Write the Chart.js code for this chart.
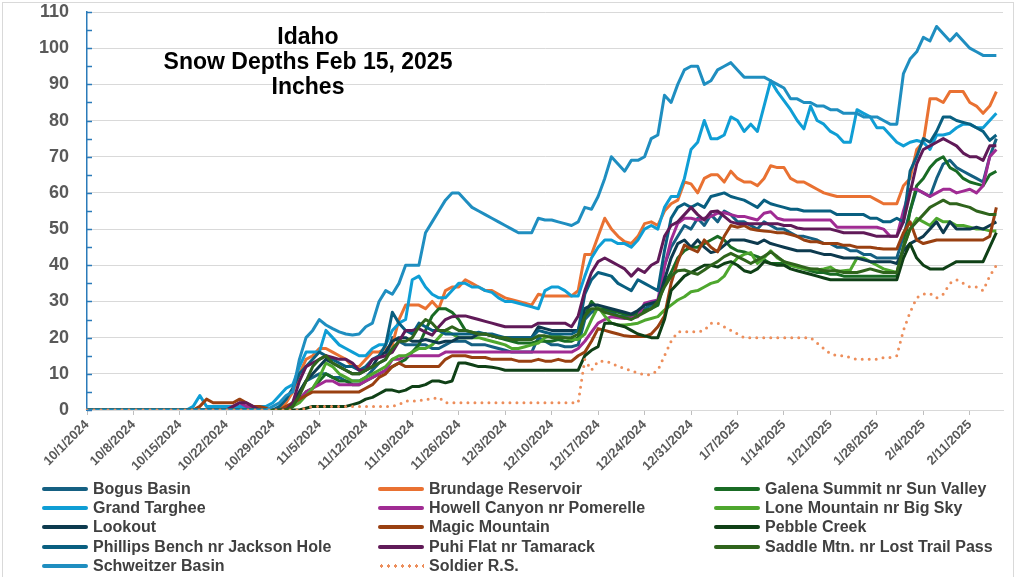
<!DOCTYPE html>
<html>
<head>
<meta charset="utf-8">
<script src="https://cdn.jsdelivr.net/npm/chart.js@4.4.1/dist/chart.umd.min.js"></script>
<style>
html,body{margin:0;padding:0;background:#fff;}
#wrap{position:relative;width:1022px;height:577px;overflow:hidden;background:#fff;}
#frame{position:absolute;left:2px;top:2px;width:1012px;height:600px;border:1px solid #d9d9d9;box-sizing:border-box;}
#c{position:absolute;left:0;top:0;}
#title{position:absolute;left:108px;top:24px;width:400px;text-align:center;font:bold 23px/25px "Liberation Sans",Arial,sans-serif;color:#000;}
#legend{position:absolute;left:0;top:0;width:1022px;height:577px;pointer-events:none;}
.item{position:absolute;height:20px;display:flex;align-items:center;font:bold 16px "Liberation Sans",Arial,sans-serif;color:#404040;white-space:nowrap;}
.sw{width:46px;height:4px;margin-right:5px;border-radius:2px;}
.dots{width:46px;height:4px;margin-right:5px;background-image:radial-gradient(circle,#ED8E5B 1.6px,transparent 1.8px);background-size:7px 4px;background-repeat:repeat-x;}
</style>
</head>
<body>
<div id="wrap">
  <div id="frame"></div>
  <canvas id="c" width="1022" height="577"></canvas>
  <div id="title">Idaho<br>Snow Depths Feb 15, 2025<br>Inches</div>
  <div id="legend"></div>
</div>
<script>
// ---- categories (daily, 10/1/2024 .. 2/16/2025) ----
const dates = [];
for (let i = 0; i < 139; i++) {
  const d = new Date(2024, 9, 1 + i);
  dates.push((d.getMonth() + 1) + '/' + d.getDate() + '/' + d.getFullYear());
}
const tickEvery = 7;
const yTicks = [0,10,20,30,40,50,60,70,80,90,100,110];

// ---- series (inches, one value per day 10/1/2024 .. 2/15/2025) ----
const bogusBasin = [
 0,0,0,0,0,0,0,0,0,0, 0,0,0,0,0,0,0,0,0,0, 0,0,0,0,0,0,0,0,0,0, 0,
 2,5,8,9,10,10,9,9,8,
 8,8,9,11,13,14,20,19,18,18,
 18,18,17,17,18,19,19,19,18,18,
 18,17.5,17,16.5,16,16,16,16,20,19,
 18,18,17.5,17.5,18,25,27,28,27.5,27,
 26,26,25.5,27,28,29,29,40,45,48,
 51,50,53,51,54,52,55,54,52,52,
 51,50,52,51,50,50,49,48,48,47.5,
 47,46,46,45,45,44,44,43,43,42,
 42,42,42,48,55,61,60,59,64,68,
 69,67,66,65,64,63,70,75];
const brundageReservoir = [
 0,0,0,0,0,0,0,0,0,0, 0,0,0,0,0,0,0,0,0,0, 0,0,0,0,0,0,0,0,0,0,
 2,5,10,14,15,17,17,16,15,14,
 12,12,14,16,16,17,18,25,29,29,
 29,28,30,28,33,34,34,36,35,34,
 33,33,32,31,30.5,30,29.5,29,32,31.5,
 31.5,31.5,31.5,31.5,33,43,43,48,53,50,
 48,46.5,46,48,51.5,52,51,55,57,58,
 63,62.5,60,64,65,65,63,66,64,63,
 63,62,64,67.5,67,67,64,63,63,62,
 61,60,59.5,59,59,59,59,59,59,58,
 57,57,57,62,64,72,74,86,86,85,
 88,88,88,85,84,82,84,88];
const galenaSummit = [
 0,0,0,0,0,0,0,0,0,0, 0,0,0,0,0,0,0,0,0,0, 0,0,0,0,0,0,0,0,0,0, 0,
 1,3,5,6,8,10,9,8,8,
 7,7,8,9,10,11,12,13,14,16,
 18,22,26,28,28,27,25,22,21.5,21,
 21,20.5,20,19.5,19,18.5,18.5,18.5,19,19,
 19,19.5,19,19,20,26,30,28,28,27.5,
 27,26.5,26,27,27.5,28,29,35,38,42,
 44,45,45,46,47,48,47,45,44,43.7,
 43,42.4,41.5,40.5,40.5,40.5,40,39.6,39,38.5,
 38,38,37.5,37.5,37,37,37,37,37,37,
 37,37,37,45,55,62,64,67,69,70,
 67,66,64,63,62.5,62,65,66];
const grandTarghee = [
 0,0,0,0,0,0,0,0,0,0,
 0,0,0,0,0,0,1,4,1,1,
 1,1,1,1,1,1,1,1,2,4,
 6,7,12,16,16,16,22,20,18,17,
 16,15,15,17,18,18,22,24,25,36,
 37,34,32,31,31,33,35,35,34,34,
 33,32.5,31,30,30,29.5,29,28.5,28,33,
 34,34,33,31.5,31.5,37,42,45,47,47,
 46,46,45,47,50,51,50,56,59,59,
 64,72,74,80,75,75,76,81,80,77,
 79,77,84,91,88,85.5,83,80,77.7,84,
 80,79,77,76,74,74,83,82,81,78,
 78,76,74,73,74,74.5,74,72,76,76,
 76.5,78,79,79,78,78,80,82];
const howellCanyon = [
 0,0,0,0,0,0,0,0,0,0, 0,0,0,0,0,0,0,0,0,0, 0,0,
 1,2,1,1,0,0,0,0,0,
 1,3,5,6,7,8,8,7,7,
 7,7,8,9,10,11,14,14,15,15,
 15,15,15,15,16,16,16,16,16,16,
 16,16,16,16,16,16,16,16,16,16,
 16,16,16,16,17,19,21.5,24,25,25.8,
 25.5,25.3,25.5,25.8,29.5,30,30.4,39.6,47,51.6,
 53,53,52.5,53,53.5,54.4,54.5,54,53.5,53.5,
 53,52.5,54.4,54.8,53,52.5,52.5,52.5,52.5,52.5,
 52.5,52.5,52.5,50.5,50.5,50.5,50.5,50.5,50.5,50.5,
 50,48,48,55,61,61,60,59,60,61,
 61,60,60.5,61,60,62,70,72];
const loneMountain = [
 0,0,0,0,0,0,0,0,0,0, 0,0,0,0,0,0,0,0,0,0, 0,0,0,0,0,0,0,0,0,0, 0,
 1,2,4,6,9,13,12,10,9,
 8,8,9,10,11,12,14,15,15,16,
 17,17,18,20,22,21,20,20,20,20,
 19.5,19,18.5,18,17,17,17.5,18,18.5,20,
 20.5,20.5,20,19.5,19.5,21,25,28.5,26,24,
 23.5,23.5,23.7,24,24.8,25.3,25.8,27.6,29,30.4,
 31.3,32.7,33,34,35,35.5,37,40,42,43,
 43.5,40.5,42,44,42,41,40,39.5,39,39,
 38.7,39,39.5,38.3,38.5,38.7,42,42,41,40,
 39,38.5,38,45,50,53,52,51,53,52,
 52,51,51,50.5,50,50,49.5,49.5];
const lookout = [
 0,0,0,0,0,0,0,0,0,0, 0,0,0,0,0,0,0,0,0,0, 0,0,0,0,0,0,0,0,0,0, 0,
 2,5,8,10,12,14,13,12,11,
 10,10,11,12,15,16,19,20,20,19,
 19,19.5,19,18.5,19,19,20,20,20,21,
 21,20.5,20,20,20,20,20,20,23,22.5,
 22,22,22,22,22,28,29,29,28.5,28,
 27.5,27,26.5,27.5,29,29.5,30,36,42,46,
 47,45,47,45,43.5,44,45.5,47,47,47,
 46.5,46,47,46,45.5,45,44.5,44,44,44,
 43.5,43,43,42.5,42,42,42,41.5,41,41,
 41,41,40.5,44,46,47,48,50,52,49,
 52,50,50,50,50.5,50,51,52];
const magicMountain = [
 0,0,0,0,0,0,0,0,0,0, 0,0,0,0,0,0,0,
 1,3,2,
 2,2,2,3,2,1,1,0.5,0,0,
 1,2,3,4,5,5,5,5,5,5,
 5,5,6,7,9,10,12,13,12,12,
 12,12,12,12,14,15,15,15,14.5,14.5,
 14.5,14,14,14,14,13.5,13.5,13.5,14,13.5,
 13.5,14,13.5,13.5,15,16,19,22.5,22,21.5,
 21,20.5,20.3,20.3,20.3,21,23,26,35,41,
 45.6,44.5,43.7,47,45,43.7,48,51,50.5,51,
 50,49.7,49.5,49.3,49,49,48.5,48,47,46.5,
 46.5,46,46,46,45.5,45.5,45,45,45,44.7,
 44.5,44.5,44.5,49,52,47,46,46.5,47,47,
 47,47,47,47,47,47,48,56];
const pebbleCreek = [
 0,0,0,0,0,0,0,0,0,0, 0,0,0,0,0,0,0,0,0,0, 0,0,0,0,0,0,0,0,0,0, 0,0,0,
 0.5,1,1,1,1,1,1,
 1.5,2,3,3.5,4.5,5.5,5.5,5,5.5,6.5,
 6.5,7,8,8,7.5,8,13,13,12.5,12,
 12,11.8,11.5,11,11,11,11,11,11,11,
 11,11,11,11,11,15,16.5,17.5,24,24,
 23.5,23,22,21,20.5,20,20,25,33,35,
 37,38,39,40,40,39.5,40.5,41,40,38.5,
 38,39,41,40.5,40,40,39,38.5,38,37.5,
 37,36.5,36,36,36,36,36,36,36,36,
 36,36,36,42,46,42,40,39,39,39,
 40,41,41,41,41,41,45,49];
const phillipsBench = [
 0,0,0,0,0,0,0,0,0,0, 0,0,0,0,0,0,0,0,0,0, 0,0,0,0,0,0,0,0,0,1,
 3,6,10,12,14,16,15,14,13,12,
 12,11,12,14,15,18,27,24,22,21,
 24,23,22,22,21,21,21,21,21,21.5,
 21,21,20.5,20,20,20,20,20,22,21.5,
 21,21,21,21,22,32,36,38,37.5,37,
 35,34,33,36,35,34,33,44,53,56,
 57,56,57,56,59,59.5,60,59,58.5,58,
 57,56,58,57,56.5,56,55.5,55.5,55,55,
 55,55,55,54,54,54,54,54,53,53,
 52,52,53,52,66,70,75,74,77,81,
 81,80,79.5,79,78,77,74.5,76];
const puhiFlat = [
 0,0,0,0,0,0,0,0,0,0, 0,0,0,0,0,0,0,0,0,0, 0,0,
 1,2,2,1,0,0,0,0,0,
 2,8,12,13,14,15,14.5,14,14,
 13,11,11,14,14.5,15,16,19,22,22,
 22.5,21.5,20.7,23,25,25.8,26,26,25.5,25,
 24.5,24,23.5,23,23,23,23,23,24,24,
 24,24,24,23,26,33,38,41,42,41,
 40,39,37,39,38,40,41,48,51,52,
 54,56,54,52.5,54.8,55,53.5,52,51.5,51.5,
 51.5,51.5,51.5,51.5,51.5,51,51,50.3,50,50,
 50,50,50,49.5,49,49,49,49,48.5,48,
 48,48,48,52,60,68,72,73,74,75,
 74,73,71,70,70,69,73,73];
const saddleMtn = [
 0,0,0,0,0,0,0,0,0,0, 0,0,0,0,0,0,0,0,0,0, 0,0,0,0,0,0,0,0,0,0, 0,
 1,4,8,12,14,15,13,12,11,
 10,10,11,12,13,14,17,19,19,20,
 23,25,24,22,22,23,22,22,21.5,21,
 21,20.5,20,20,19.5,19.5,19.5,19.5,20.5,20.5,
 20,20,20,20,21,26,28,28,27,26.5,
 26,25.5,25,26,27,28,30,34,37,38.5,
 38.7,38,37.5,38.7,40,41,42.4,43.3,42.4,41.5,
 40.5,41.5,42.5,43.7,42.4,41,40.5,40,39.5,39,
 39,38.5,38.5,38.5,38,38,38,38.5,39,38.5,
 38,38,38,45,50,52,54,56,57,58,
 57,57,56.5,56,55,54.5,54,54];
const schweitzerBasin = [
 0,0,0,0,0,0,0,0,0,0,
 0,0,0,0,0,0,0,0,0,0,
 0,0,0,0,0,0,0,0,1,2,
 4,5,14,20,22,25,23.5,22.5,21.6,21,
 20.7,21,23,24,30,33,32,35,40,40,
 40,49,52,55,58,60,60,58,56,55,
 54,53,52,51,50,49,49,49,53,52.5,
 52.5,52,51.5,51,52,56,55.5,59,64,70,
 68,66,69,69,70,75,76,87,85,90,
 94,95,95,90,91,94,95,96,94,92,
 92,92,92,91,90,89,86,86,85,85,
 84,84,83,83,82,82,82,81,81,81,
 80,79,79,93,97,99,103,102,106,104,
 102,104,102,100,99,98,98,98];
const soldierRS = [
 0,0,0,0,0,0,0,0,0,0, 0,0,0,0,0,0,0,0,0,0, 0,0,0,0,0,0,0,0,0,0, 0,0,0,
 0.5,1,1,1,1,1,1,
 1,1,1,1,1,1,1,1.5,2.5,2.5,
 2.5,3,3,3.5,2,2,2,2,2,2,
 2,2,2,2,2,2,2,2,2,2,
 2,2,2,2,2,14,11,13.5,13.5,13,
 12,11.5,10.8,10.2,9.7,9.8,11,15,19,21.6,
 21.6,21.6,21.6,22,24,24,23,22,21,20,
 20,20,20,20,20,20,20,20,20,20,
 18.5,17,15.5,15,15,14.5,14,14,14,14,
 14.5,14.5,15,22,27,31,32,32.2,31,32,
 35,36,35,34,34,33,37,40];

const seriesNames = ['Bogus Basin','Brundage Reservoir','Galena Summit nr Sun Valley','Grand Targhee',
  'Howell Canyon nr Pomerelle','Lone Mountain nr Big Sky','Lookout','Magic Mountain','Pebble Creek',
  'Phillips Bench nr Jackson Hole','Puhi Flat nr Tamarack','Saddle Mtn. nr Lost Trail Pass',
  'Schweitzer Basin','Soldier R.S.'];
const seriesValues = [bogusBasin, brundageReservoir, galenaSummit, grandTarghee, howellCanyon,
  loneMountain, lookout, magicMountain, pebbleCreek, phillipsBench, puhiFlat, saddleMtn,
  schweitzerBasin, soldierRS];
const seriesColors = ['#156082','#E97132','#196B24','#0F9ED5','#A02B93','#4EA72E','#0D3A4E',
  '#994011','#0F4016','#095F80','#601A58','#2F641C','#1F8EC0','#ED8E5B'];

const datasets = seriesNames.map((name, i) => ({
  label: name,
  data: seriesValues[i],
  borderColor: seriesColors[i],
  backgroundColor: seriesColors[i],
  borderWidth: 3,
  pointRadius: 0,
  tension: 0,
  fill: false,
  borderJoinStyle: 'round',
  borderCapStyle: i === 13 ? 'round' : 'butt',
  borderDash: i === 13 ? [0, 7] : [],
  order: seriesNames.length - i
}));

const axisBlue = '#2b7bb9';
const yTickMarks = {
  id: 'yTickMarks',
  afterDraw(c) {
    const y = c.scales.y, g = c.ctx;
    g.save();
    g.strokeStyle = axisBlue;
    g.lineWidth = 1.5;
    for (let v = 0; v <= 110; v += 5) {
      const py = Math.round(y.getPixelForValue(v)) + 0.5;
      g.beginPath();
      g.moveTo(y.right, py);
      g.lineTo(y.right + 5, py);
      g.stroke();
    }
    g.restore();
  }
};

new Chart(document.getElementById('c'), {
  type: 'line',
  data: { labels: dates, datasets },
  options: {
    responsive: false,
    animation: false,
    devicePixelRatio: 1,
    layout: { padding: { left: 0, right: 19, top: 12, bottom: 100 } },
    plugins: { legend: { display: false }, tooltip: { enabled: false }, title: { display: false } },
    scales: {
      x: {
        type: 'category',
        offset: false,
        grid: {
          drawOnChartArea: false,
          drawTicks: true,
          tickLength: 5,
          tickColor: ctx => (ctx.index % tickEvery === 0 ? '#bfbfbf' : 'rgba(0,0,0,0)')
        },
        border: { color: '#d9d9d9', width: 1 },
        ticks: {
          autoSkip: false,
          maxRotation: 45,
          minRotation: 45,
          padding: 2,
          color: '#595959',
          font: { family: 'Liberation Sans', size: 13, weight: 'bold' },
          callback: (v, i) => (i % tickEvery === 0 ? dates[i] : '')
        },
        afterFit: s => { s.height = 67; s.paddingLeft = 0; s.paddingRight = 0; }
      },
      y: {
        min: 0,
        max: 110,
        afterBuildTicks: s => { s.ticks = yTicks.map(v => ({ value: v })); },
        grid: { color: '#d9d9d9', lineWidth: 1, drawTicks: false },
        border: { color: axisBlue, width: 1.5 },
        ticks: {
          padding: 18,
          color: '#595959',
          font: { family: 'Liberation Sans', size: 18, weight: 'bold' }
        },
        afterFit: s => { s.width = 87; s.paddingTop = 0; s.paddingBottom = 0; }
      }
    }
  },
  plugins: [yTickMarks]
});

// ---- legend (3 columns, row-major like the reference) ----
const legend = document.getElementById('legend');
const colX = [42, 378, 714];
const rowY = [489, 508, 527, 547, 566];
seriesNames.forEach((name, i) => {
  const item = document.createElement('div');
  item.className = 'item';
  item.style.left = colX[i % 3] + 'px';
  item.style.top = (rowY[Math.floor(i / 3)] - 10) + 'px';
  const sw = document.createElement('span');
  if (i === 13) { sw.className = 'dots'; }
  else { sw.className = 'sw'; sw.style.background = seriesColors[i]; }
  const tx = document.createElement('span');
  tx.textContent = name;
  item.appendChild(sw);
  item.appendChild(tx);
  legend.appendChild(item);
});
</script>
</body>
</html>
